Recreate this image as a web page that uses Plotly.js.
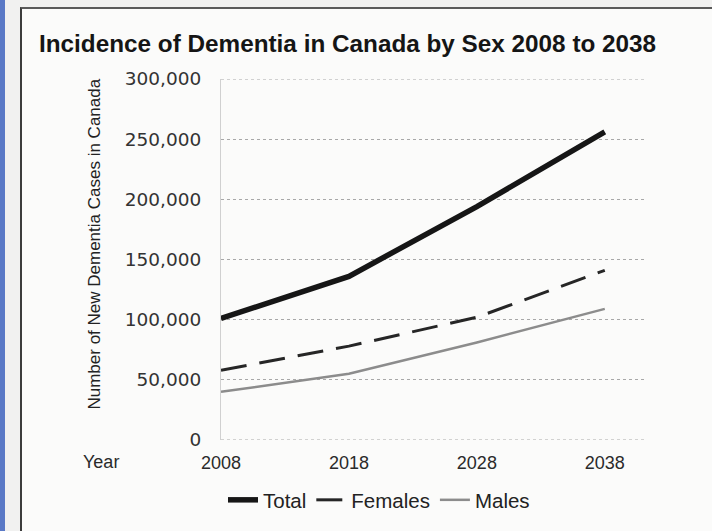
<!DOCTYPE html>
<html>
<head>
<meta charset="utf-8">
<script src="https://cdn.plot.ly/plotly-3.0.1.min.js"></script>
<style>
  html, body { margin: 0; padding: 0; width: 712px; height: 531px; overflow: hidden; background: #f1f1f0; }
  #blue { position: absolute; left: 0; top: 0; width: 5px; height: 531px; background: #5a79c6; }
  #frame { position: absolute; left: 20px; top: 7px; width: 692px; height: 524px; background: #fbfbfa;
           border-left: 2px solid #3c3c3c; border-top: 2px solid #5a5a5a; box-sizing: border-box; }
  #chart { position: absolute; left: 0; top: 0; width: 712px; height: 531px; }
</style>
</head>
<body>
<div id="blue"></div>
<div id="frame"></div>
<div id="chart"></div>
<script>
const years = [2008, 2018, 2028, 2038];
const totalCases = [101000, 136000, 194000, 256000];
const femaleCases = [58000, 78000, 102000, 141000];
const maleCases = [40000, 55000, 81000, 109000];
const yTickValues = [0, 50000, 100000, 150000, 200000, 250000, 300000];
const yTitle = 'Number of New Dementia Cases in Canada';
const xTitle = 'Year';

const traces = [
  { x: years, y: totalCases, name: 'Total', type: 'scatter', mode: 'lines',
    line: { color: '#161616', width: 5.5 } },
  { x: years, y: femaleCases, name: 'Females', type: 'scatter', mode: 'lines',
    line: { color: '#262626', width: 3, dash: '26px,13px' } },
  { x: years, y: maleCases, name: 'Males', type: 'scatter', mode: 'lines',
    line: { color: '#8c8c8c', width: 2.5 } }
];

const yMin = yTickValues[0];
const yMax = yTickValues[yTickValues.length - 1];
const edgeGrid = [yMin, yMax].map(v => ({
  type: 'line', xref: 'paper', yref: 'y', x0: 0, x1: 1, y0: v, y1: v,
  line: { color: '#a8a8a8', width: 1, dash: 'dot' }, layer: 'below'
}));

const layout = {
  width: 712, height: 531,
  margin: { l: 221, r: 65, t: 79, b: 90, pad: 0 },
  paper_bgcolor: 'rgba(0,0,0,0)',
  plot_bgcolor: 'rgba(0,0,0,0)',
  showlegend: true,
  title: {
    text: '<b>Incidence of Dementia in Canada by Sex 2008 to 2038</b>',
    font: { family: 'Liberation Sans, Arial, sans-serif', size: 24.3, color: '#151515' },
    xref: 'container', yref: 'container',
    x: 39 / 712, xanchor: 'left',
    y: 1 - 43 / 531, yanchor: 'middle'
  },
  xaxis: {
    range: [2008, 2041.3],
    tickvals: years,
    ticktext: years.map(String),
    showgrid: false, zeroline: false,
    showline: false,
    ticks: 'outside', ticklen: 6, tickcolor: 'rgba(0,0,0,0)',
    tickfont: { family: 'Liberation Sans, Arial, sans-serif', size: 18, color: '#2a2a2a' },
    fixedrange: true
  },
  yaxis: {
    range: [yMin, yMax],
    tickvals: yTickValues,
    tickformat: ',d',
    showgrid: true, gridcolor: '#a8a8a8', griddash: 'dot', gridwidth: 1,
    zeroline: false,
    showline: true, linecolor: '#d0d0d0', linewidth: 1,
    ticks: 'outside', ticklen: 15, tickcolor: 'rgba(0,0,0,0)',
    tickfont: { family: 'DejaVu Sans, Verdana, sans-serif', size: 18.5, color: '#333333' },
    fixedrange: true
  },
  shapes: edgeGrid,
  separators: '.,',
  legend: {
    orientation: 'h',
    x: (379 - 221) / 426, xanchor: 'center',
    y: (441 - 500) / 362, yanchor: 'middle',
    font: { family: 'Liberation Sans, Arial, sans-serif', size: 20.5, color: '#222222' },
    itemgap: 17,
    bgcolor: 'rgba(0,0,0,0)'
  },
  annotations: [
    { text: xTitle, xref: 'paper', yref: 'paper',
      x: (101 - 221) / 426, y: (441 - 463) / 362,
      xanchor: 'center', yanchor: 'middle', showarrow: false,
      font: { family: 'Liberation Sans, Arial, sans-serif', size: 18, color: '#2a2a2a' } },
    { text: yTitle, xref: 'paper', yref: 'paper', textangle: -90,
      x: (95 - 221) / 426, y: (441 - 245) / 362,
      xanchor: 'center', yanchor: 'middle', showarrow: false,
      font: { family: 'Liberation Sans, Arial, sans-serif', size: 17, color: '#222222' } }
  ]
};

Plotly.newPlot('chart', traces, layout, { displayModeBar: false, staticPlot: true });
</script>
</body>
</html>
